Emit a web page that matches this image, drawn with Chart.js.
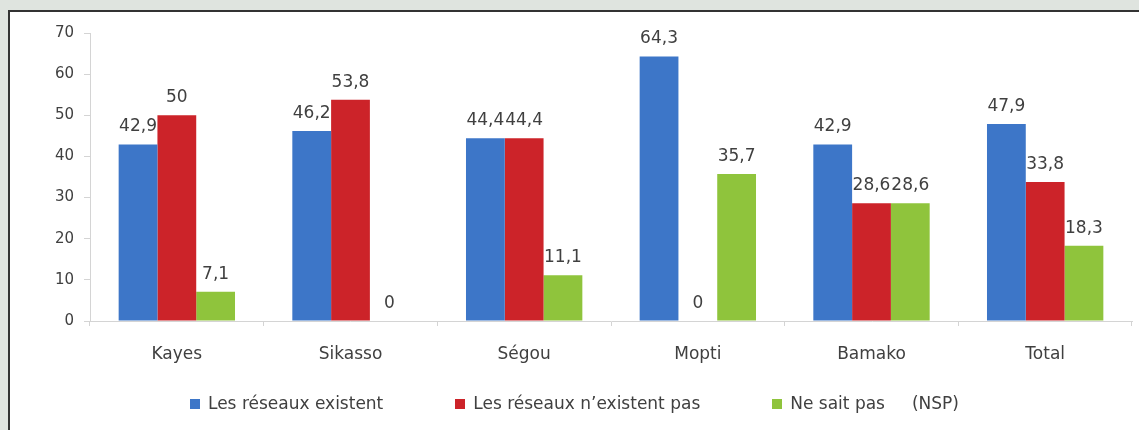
<!DOCTYPE html>
<html>
<head>
<meta charset="utf-8">
<script src="https://cdn.jsdelivr.net/npm/chart.js@4"></script>
<style>
  html, body { margin: 0; padding: 0; background: #dfe4df; overflow: hidden; }
  #panel {
    position: fixed; left: 8px; top: 10px; right: -60px; bottom: -60px;
    background: #fff; border-left: 2px solid #333; border-top: 2px solid #333;
  }
  #panel canvas { display: block; }
  #legend {
    position: absolute; left: 0; width: 1129px; top: 381px;
    display: flex; justify-content: center; gap: 72px;
    font: 17px "DejaVu Sans"; color: #404040; white-space: pre;
  }
  #legend span.box { display: inline-block; width: 10px; height: 10px; margin-right: 8px; }
</style>
</head>
<body>
<div id="panel">
  <canvas id="chart" width="1129" height="418"></canvas>
  <div id="legend"></div>
</div>
<script>
// regions and the three answer groups (percent)
const regions = ['Kayes', 'Sikasso', 'Ségou', 'Mopti', 'Bamako', 'Total'];
const seriesNames = ['Les réseaux existent', 'Les réseaux n\u2019existent pas', 'Ne sait pas     (NSP)'];
const existent = [42.9, 46.2, 44.4, 64.3, 42.9, 47.9];
const nExistentPas = [50, 53.8, 44.4, 0, 28.6, 33.8];
const neSaitPas = [7.1, 0, 11.1, 35.7, 28.6, 18.3];
const yTicks = [0, 10, 20, 30, 40, 50, 60, 70];
const colors = ['#3d76c8', '#cc2329', '#8fc43c'];

const textColor = '#404040';
const font = { family: 'DejaVu Sans', size: 17 };

// value labels above each bar, french decimal comma
const barLabels = {
    id: 'barLabels',
    afterDatasetsDraw(chart) {
        const ctx = chart.ctx;
        ctx.save();
        ctx.font = '17px "DejaVu Sans"';
        ctx.fillStyle = textColor;
        ctx.textAlign = 'center';
        ctx.textBaseline = 'bottom';
        chart.data.datasets.forEach(function(ds, i) {
            chart.getDatasetMeta(i).data.forEach(function(bar, j) {
                const txt = String(ds.data[j]).replace('.', ',');
                ctx.fillText(txt, bar.x, bar.y - 9);
            });
        });
        ctx.restore();
    }
};

const chart = new Chart(document.getElementById('chart').getContext('2d'), {
    type: 'bar',
    data: {
        labels: regions,
        datasets: [
            { label: seriesNames[0], data: existent, backgroundColor: colors[0] },
            { label: seriesNames[1], data: nExistentPas, backgroundColor: colors[1] },
            { label: seriesNames[2], data: neSaitPas, backgroundColor: colors[2] }
        ]
    },
    options: {
        responsive: false,
        animation: false,
        categoryPercentage: 0.67,
        barPercentage: 1.0,
        layout: { padding: { top: 21, right: 7, bottom: 44, left: 0 } },
        plugins: {
            legend: { display: false },
            tooltip: { enabled: false }
        },
        scales: {
            x: {
                grid: { display: true, drawOnChartArea: false, offset: true, tickLength: 5, color: '#d4d4d4' },
                border: { color: '#d4d4d4' },
                ticks: { font: font, color: textColor, padding: 18 },
                afterFit: function(axis) { axis.height = 65; }
            },
            y: {
                min: 0, max: 70,
                afterBuildTicks: function(axis) { axis.ticks = yTicks.map(v => ({ value: v })); },
                grid: { display: true, drawOnChartArea: false, tickLength: 6, color: '#d4d4d4' },
                border: { color: '#d4d4d4' },
                ticks: { font: { family: 'DejaVu Sans', size: 15 }, color: textColor, padding: 10 },
                afterFit: function(axis) { axis.width = 80; }
            }
        }
    },
    plugins: [barLabels]
});

// html legend built from the chart's datasets
const legend = document.getElementById('legend');
chart.data.datasets.forEach(function(ds) {
    const item = document.createElement('div');
    const box = document.createElement('span');
    box.className = 'box';
    box.style.background = ds.backgroundColor;
    item.appendChild(box);
    item.appendChild(document.createTextNode(ds.label));
    legend.appendChild(item);
});
</script>
</body>
</html>
